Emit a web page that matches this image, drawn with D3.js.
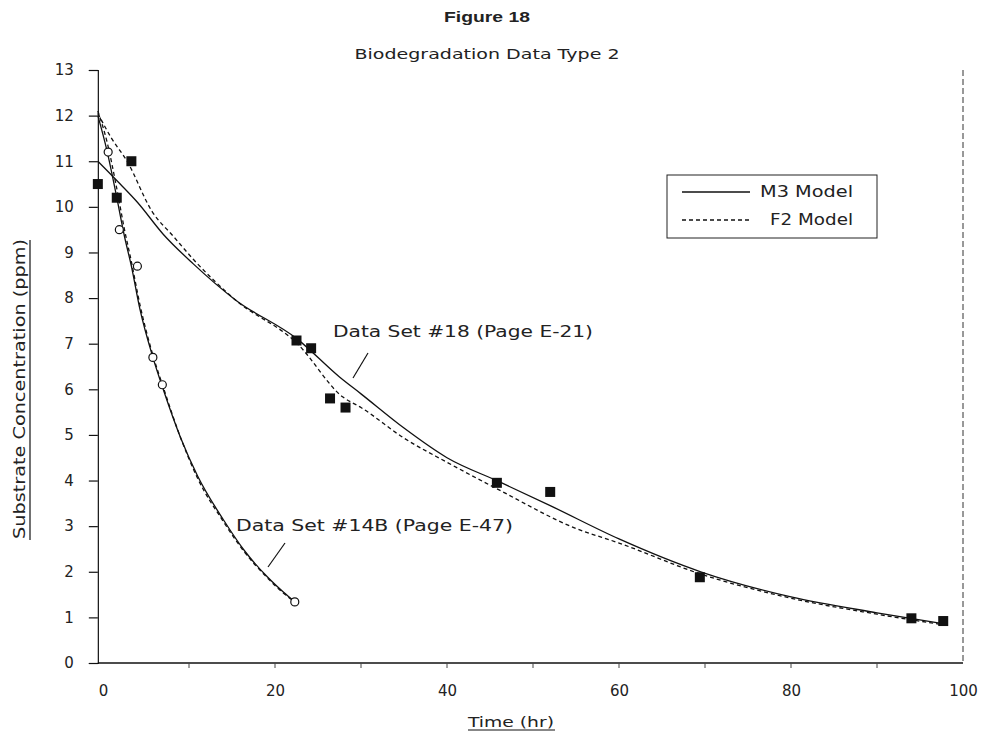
<!DOCTYPE html>
<html><head><meta charset="utf-8">
<script src="https://cdn.jsdelivr.net/npm/d3@7/dist/d3.min.js"></script>
<style>
body{margin:0;background:#fff;}
svg{display:block;}
text{font-family:"DejaVu Sans",sans-serif;fill:#222;}
</style></head>
<body><svg id="chart" width="991" height="734"></svg>
<script>
// ---- data ----
const xTicks = [0, 20, 40, 60, 80, 100];
const yTicks = [0,1,2,3,4,5,6,7,8,9,10,11,12,13];

// Data Set #18 (filled squares)
const set18Time = [-0.6, 1.6, 3.3, 22.5, 24.2, 26.4, 28.2, 45.8, 52.0, 69.4, 94.0, 97.7];
const set18Conc = [10.5, 10.2, 11.0, 7.07, 6.9, 5.8, 5.6, 3.95, 3.75, 1.88, 0.98, 0.92];

// Data Set #14B (open circles)
const set14Time = [0.6, 1.9, 4.0, 5.8, 6.9, 22.3];
const set14Conc = [11.2, 9.5, 8.7, 6.7, 6.1, 1.34];

// Model curves, Data Set #18
const m3_18Time = [-0.6, 2.0, 4.0, 7.0, 10.5, 15.4, 22.6, 27.5, 30, 35, 40, 46, 52, 60, 69.5, 80, 90, 98];
const m3_18Conc = [11.0, 10.5, 10.1, 9.4, 8.75, 7.96, 7.1, 6.27, 5.9, 5.15, 4.5, 3.98, 3.45, 2.72, 2.0, 1.45, 1.1, 0.85];
const f2_18Time = [-0.6, 1.0, 2.8, 5.7, 8.2, 10.5, 15.4, 22.6, 27.9, 30, 35, 40, 46, 55, 60, 69.5, 80, 90, 98];
const f2_18Conc = [12.05, 11.5, 11.0, 9.9, 9.35, 8.85, 7.96, 7.0, 5.83, 5.6, 4.93, 4.4, 3.8, 2.95, 2.63, 1.95, 1.42, 1.07, 0.83];

// Model curves, Data Set #14B
const m3_14Time = [-0.6, 0.5, 1.5, 2.5, 3.3, 4.3, 5.8, 7, 9, 11, 14, 16.5, 19.1, 21, 22.3];
const m3_14Conc = [12.0, 11.2, 10.3, 9.35, 8.7, 7.75, 6.7, 6.0, 4.95, 4.1, 3.14, 2.45, 1.89, 1.55, 1.34];
const f2_14Time = [-0.6, 0.5, 1.5, 2.5, 3.3, 4.3, 5.8, 7, 9, 11, 14, 16.5, 19.1, 21, 22.3];
const f2_14Conc = [12.1, 11.4, 10.5, 9.5, 8.8, 7.85, 6.75, 6.05, 4.95, 4.05, 3.1, 2.42, 1.87, 1.53, 1.34];

const legendLabels = ["M3 Model", "F2 Model"];
const titleText = "Figure 18";
const subtitleText = "Biodegradation Data Type 2";
const xLabel = "Time (hr)";
const yLabel = "Substrate Concentration (ppm)";
const note18 = "Data Set #18 (Page E-21)";
const note14 = "Data Set #14B (Page E-47)";

// ---- drawing ----
const svg = d3.select("#chart");
const x = d3.scaleLinear().domain([0, 100]).range([103, 963]);
const y = d3.scaleLinear().domain([0, 13]).range([663, 70]);
const ink = "#111";

const zip = (a, b) => a.map((v, i) => [v, b[i]]);
const line = d3.line().x(d => x(d[0])).y(d => y(d[1])).curve(d3.curveMonotoneX);

// Titles
svg.append("text").attr("x", 487).attr("y", 22).attr("text-anchor", "middle")
  .style("font-family", "'Liberation Sans',Arial,sans-serif").style("font-weight", "bold").style("font-size", "15px")
  .attr("textLength", 86).attr("lengthAdjust", "spacingAndGlyphs").text(titleText);
svg.append("text").attr("x", 487).attr("y", 59).attr("text-anchor", "middle")
  .style("font-size", "14px").attr("textLength", 265).attr("lengthAdjust", "spacingAndGlyphs").text(subtitleText);

// Y axis
const yAxis = d3.axisLeft(y).tickValues(yTicks).tickSize(9).tickPadding(15).tickFormat(d3.format("d"));
const gy = svg.append("g").attr("transform", `translate(${x(-0.6)},0)`).call(yAxis);
gy.select(".domain").attr("stroke", ink).attr("stroke-width", 1.2);
gy.selectAll(".tick line").attr("stroke", ink).attr("stroke-width", 1.2);
gy.selectAll(".tick text").style("font-size", "15px").style("font-family", "'DejaVu Sans',sans-serif").attr("fill", "#222");

// X axis
const xAxis = d3.axisBottom(x).tickValues(xTicks).tickSize(0).tickPadding(22).tickFormat(d3.format("d"));
const gx = svg.append("g").attr("transform", `translate(0,${y(0)})`).call(xAxis);
gx.select(".domain").remove();
gx.selectAll(".tick text").style("font-size", "15px").style("font-family", "'DejaVu Sans',sans-serif").attr("fill", "#222");
svg.append("line").attr("x1", x(-0.6)).attr("x2", x(100)).attr("y1", y(0)).attr("y2", y(0))
  .attr("stroke", ink).attr("stroke-width", 1.4);
// small x tick marks
svg.append("g").selectAll("line").data(d3.range(10, 100, 10)).join("line")
  .attr("x1", d => x(d)).attr("x2", d => x(d)).attr("y1", y(0)).attr("y2", y(0) + 5)
  .attr("stroke", "#444").attr("stroke-width", 1);

// right dashed border
svg.append("line").attr("x1", x(100)).attr("x2", x(100)).attr("y1", y(13)).attr("y2", y(0))
  .attr("stroke", "#333").attr("stroke-width", 1).attr("stroke-dasharray", "6,3");

// Axis labels (underlined)
svg.append("text").attr("transform", `translate(20,${389}) rotate(-90)`).attr("text-anchor", "middle")
  .attr("dy", "0.35em").style("font-size", "15px")
  .attr("textLength", 300).attr("lengthAdjust", "spacingAndGlyphs").text(yLabel);
svg.append("line").attr("x1", 30).attr("x2", 30).attr("y1", 540).attr("y2", 240).attr("stroke", ink).attr("stroke-width", 1.2);
svg.append("text").attr("x", 511).attr("y", 727).attr("text-anchor", "middle").style("font-size", "14px")
  .attr("textLength", 86).attr("lengthAdjust", "spacingAndGlyphs").text(xLabel);
svg.append("line").attr("x1", 468).attr("x2", 555).attr("y1", 730).attr("y2", 730).attr("stroke", ink).attr("stroke-width", 1.2);

// Model curves
const curves = [
  [zip(m3_18Time, m3_18Conc), null],
  [zip(f2_18Time, f2_18Conc), "4,3"],
  [zip(m3_14Time, m3_14Conc), null],
  [zip(f2_14Time, f2_14Conc), "4,3"]
];
svg.append("g").selectAll("path").data(curves).join("path")
  .attr("d", d => line(d[0])).attr("fill", "none").attr("stroke", ink)
  .attr("stroke-width", 1.3).attr("stroke-dasharray", d => d[1]);

// Markers
svg.append("g").selectAll("rect").data(zip(set18Time, set18Conc)).join("rect")
  .attr("x", d => x(d[0]) - 5).attr("y", d => y(d[1]) - 5).attr("width", 10).attr("height", 10).attr("fill", ink);
svg.append("g").selectAll("circle").data(zip(set14Time, set14Conc)).join("circle")
  .attr("cx", d => x(d[0])).attr("cy", d => y(d[1])).attr("r", 4).attr("fill", "#fff")
  .attr("stroke", ink).attr("stroke-width", 1.2);

// Annotations
svg.append("text").attr("x", 333).attr("y", 337).style("font-size", "15px")
  .attr("textLength", 260).attr("lengthAdjust", "spacingAndGlyphs").text(note18);
svg.append("line").attr("x1", 368).attr("y1", 353).attr("x2", 353).attr("y2", 378).attr("stroke", ink).attr("stroke-width", 1.2);
svg.append("text").attr("x", 236).attr("y", 531).style("font-size", "15px")
  .attr("textLength", 277).attr("lengthAdjust", "spacingAndGlyphs").text(note14);
svg.append("line").attr("x1", 285).attr("y1", 543).attr("x2", 268).attr("y2", 567).attr("stroke", ink).attr("stroke-width", 1.2);

// Legend
const lg = svg.append("g");
lg.append("rect").attr("x", 667).attr("y", 175).attr("width", 210).attr("height", 63)
  .attr("fill", "#fff").attr("stroke", "#222").attr("stroke-width", 1);
const legendRows = [[legendLabels[0], null, 192, 93], [legendLabels[1], "4,3", 220, 83]];
legendRows.forEach(r => {
  lg.append("line").attr("x1", 682).attr("x2", 750).attr("y1", r[2]).attr("y2", r[2])
    .attr("stroke", ink).attr("stroke-width", 1.3).attr("stroke-dasharray", r[1]);
  lg.append("text").attr("x", 853).attr("y", r[2]).attr("dy", "0.35em").attr("text-anchor", "end")
    .style("font-size", "15px").attr("textLength", r[3]).attr("lengthAdjust", "spacingAndGlyphs").text(r[0]);
});
</script></body></html>
